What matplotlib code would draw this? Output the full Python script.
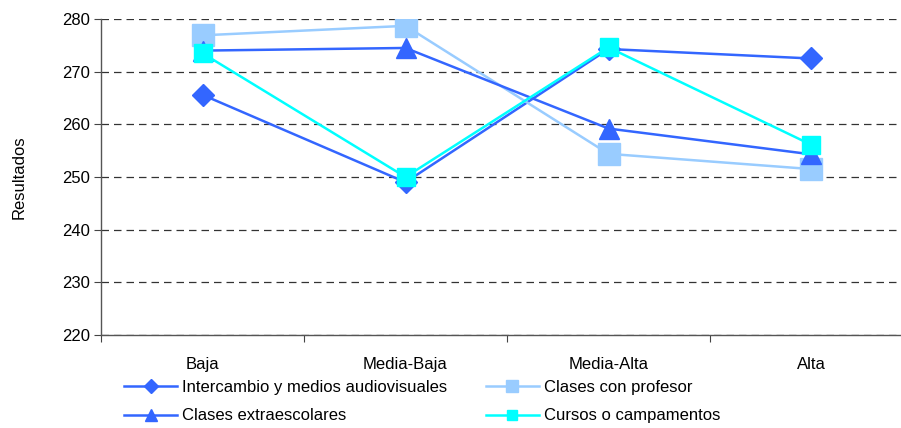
import matplotlib
matplotlib.use("Agg")
import matplotlib.pyplot as plt

plt.rcParams['font.family'] = ['Liberation Sans', 'DejaVu Sans']

categories = ["Baja", "Media-Baja", "Media-Alta", "Alta"]
intercambio = [265.6, 249.0, 274.3, 272.5]
profesor = [276.9, 278.7, 254.4, 251.5]
extraescolares = [274.0, 274.5, 259.2, 254.3]
cursos = [273.5, 250.0, 274.6, 256.1]
yticks = [220, 230, 240, 250, 260, 270, 280]

W, H = 901, 428
FS = 12
fig = plt.figure(figsize=(W / 100, H / 100), dpi=100)
ax = fig.add_axes([101 / W, 1 - 335 / H, 812 / W, (335 - 19) / H])

x = list(range(len(categories)))
l1, = ax.plot(x, intercambio, color='#3366FF', lw=1.8, marker='D', ms=11.5,
              label='Intercambio y medios audiovisuales', zorder=3)
l2, = ax.plot(x, profesor, color='#99CCFF', lw=1.8, marker='s', ms=15.5,
              label='Clases con profesor', zorder=4)
l3, = ax.plot(x, extraescolares, color='#3366FF', lw=1.8, marker='^', ms=14.5,
              label='Clases extraescolares', zorder=5)
l4, = ax.plot(x, cursos, color='#00FFFF', lw=1.8, marker='s', ms=12.5,
              label='Cursos o campamentos', zorder=6)

ax.set_xlim(-0.5, len(categories) - 0.5)
ax.set_ylim(220, 280)
ax.set_yticks(yticks)
ax.set_xticks([i - 0.5 for i in range(len(categories))])
ax.set_xticklabels([])
ax.set_xticks(x, minor=True)
ax.set_xticklabels(categories, minor=True)
ax.tick_params(axis='x', which='minor', length=0, pad=16, labelsize=FS)
ax.tick_params(axis='x', which='major', length=5, direction='out', color='#444444')
ax.tick_params(axis='y', length=5, direction='out', color='#444444', labelsize=FS, pad=3)
ax.grid(axis='y', color='#333333', ls=(0, (6, 4)), lw=0.9)
ax.set_axisbelow(True)
for s in ['top', 'right']:
    ax.spines[s].set_visible(False)
for s in ['left', 'bottom']:
    ax.spines[s].set_color('#555555')
    ax.spines[s].set_linewidth(1.0)

fig.text(19 / W, 1 - 177 / H, 'Resultados', rotation=90, fontsize=FS,
         ha='center', va='center')

leg = fig.legend(handles=[l1, l3, l2, l4], ncol=2, frameon=False,
                 loc='upper left', bbox_to_anchor=(124 / W, 1 - 380 / H),
                 fontsize=FS, handlelength=3.2, handletextpad=0.3,
                 columnspacing=2.3, borderpad=0, borderaxespad=0,
                 labelspacing=0.8, markerscale=0.6)

fig.savefig('out.png', dpi=100)
